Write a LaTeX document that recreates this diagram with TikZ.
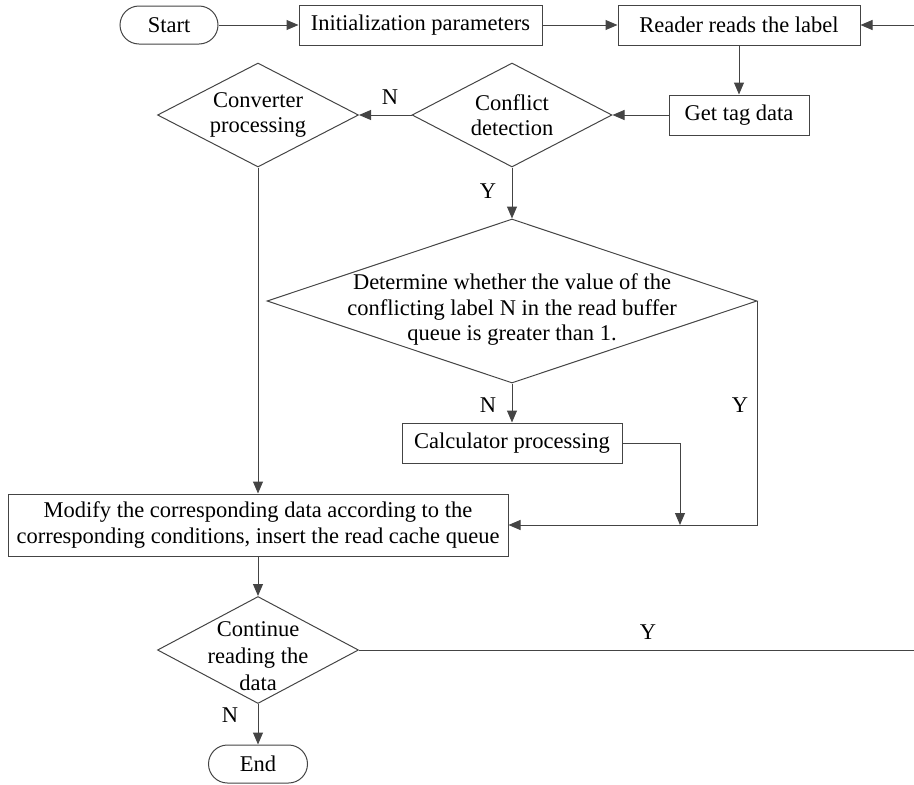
\documentclass[tikz,border=0pt]{standalone}
\usepackage{fontspec}
\setmainfont{Liberation Serif}
\usetikzlibrary{shapes.geometric,arrows.meta}
\definecolor{linec}{HTML}{444444}
\begin{document}
\begin{tikzpicture}[x=1pt,y=-1pt,
  every node/.style={font=\fontsize{22.5}{25.5}\selectfont, text=black},
  box/.style={draw=linec, line width=1pt, inner sep=0, align=center, rectangle},
  term/.style={box, rounded corners=19pt},
  dia/.style={draw=linec, line width=1pt, diamond, inner sep=0},
  txt/.style={align=center, inner sep=0},
  lab/.style={inner sep=0},
  line/.style={draw=linec, line width=1pt},
  arr/.style={line, -{Triangle[length=12pt,width=10pt]}}
]
\useasboundingbox (0,0) rectangle (914,785);

\node[term, minimum width=98pt, minimum height=38pt] (start) at (169,25) {Start};
\node[box, minimum width=243pt, minimum height=40pt] (init) at (420.5,25) {Initialization parameters};
\node[box, minimum width=242pt, minimum height=40pt] (reader) at (739,25) {Reader reads the label};
\node[box, minimum width=140pt, minimum height=40pt] (tag) at (739,115) {Get tag data};

\node[dia, minimum width=200pt, minimum height=104pt] (q1) at (512,115) {};
\node[txt] (q1t) at (512,115) {Conflict\\detection};
\node[dia, minimum width=201pt, minimum height=104pt] (conv) at (258,115) {};
\node[txt] (convt) at (258,115) {Converter\\processing};

\node[dia, minimum width=490pt, minimum height=164pt] (q2) at (512,301) {};
\node[txt] (q2t) at (512,310) {Determine whether the value of the\\conflicting label N in the read buffer\\queue is greater than 1.};

\node[box, minimum width=220pt, minimum height=40pt] (calc) at (512,443) {Calculator processing};
\node[box, minimum width=500pt, minimum height=62pt] (mod) at (258,525) {Modify the corresponding data according to the\\corresponding conditions, insert the read cache queue};

\node[dia, minimum width=201pt, minimum height=107pt] (q3) at (258,650) {};
\node[txt, font=\fontsize{22.5}{27}\selectfont] (q3t) at (258,656) {Continue\\reading the\\data};
\node[term, minimum width=99pt, minimum height=38pt] (end) at (258,764) {End};

\coordinate (rin) at (914,25);
\coordinate (yout) at (914,650);
\coordinate (j) at (680,525);

\node[lab] (n1) at (390,97) {N};
\node[lab] (y1) at (488,191) {Y};
\node[lab] (n2) at (488,405) {N};
\node[lab] (y2) at (740,405) {Y};
\node[lab] (y3) at (648,632) {Y};
\node[lab] (n3) at (230,715) {N};

\draw[arr] (start) -- (init);
\draw[arr] (init) -- (reader);
\draw[arr] (rin) -- (reader);
\draw[arr] (reader) -- (tag);
\draw[arr] (tag) -- (q1.east);
\draw[arr] (q1.west) -- (conv.east);
\draw[arr] (q1.south) -- (q2.north);
\draw[arr] (q2.south) -- (calc.north);
\draw[arr] (calc.east) -| (j);
\draw[arr] (q2.east) |- (mod.east);
\draw[arr] (conv.south) -- (mod.north);
\draw[arr] (mod.south) -- (q3.north);
\draw[line] (q3.east) -- (yout);
\draw[arr] (q3.south) -- (end.north);
\end{tikzpicture}
\end{document}
